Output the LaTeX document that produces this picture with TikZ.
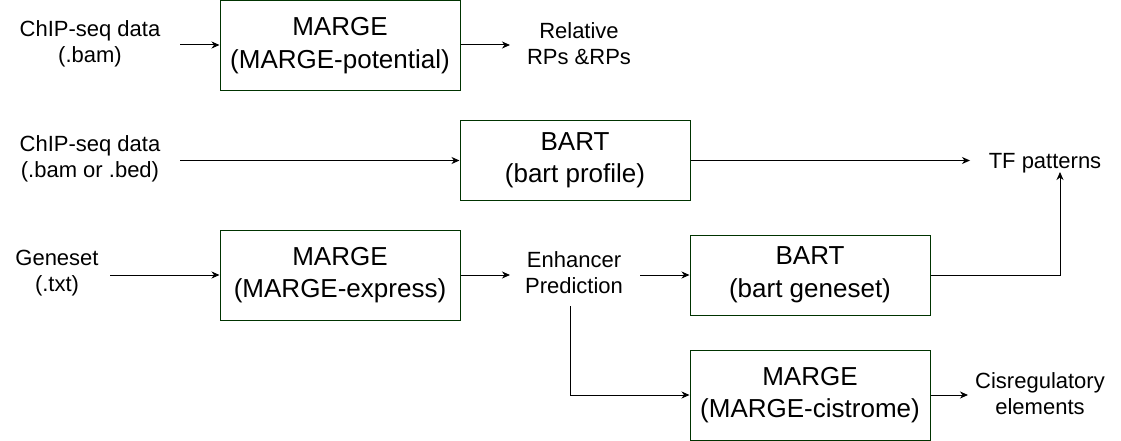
\documentclass[tikz,border=0pt]{standalone}
\usepackage{fontspec}
\setmainfont{Liberation Sans}
\usetikzlibrary{arrows.meta}
\definecolor{boxgreen}{HTML}{003300}
\tikzset{
  stepbox/.style={draw=boxgreen, line width=1pt, inner sep=0pt, align=center,
    font=\fontsize{26}{32.5}\selectfont,
    execute at begin node={\rule{0pt}{25pt}}},
  lbl/.style={inner sep=0pt, align=center, font=\fontsize{22}{26}\selectfont,
    execute at begin node={\rule{0pt}{20pt}}},
  arr/.style={draw=black, line width=1pt, -{Stealth[length=8pt,width=7pt,inset=2.5pt]}}
}
\begin{document}
\begin{tikzpicture}[x=1pt,y=1pt]
\useasboundingbox (0,0) rectangle (1121,-441);
% boxes
\node[stepbox, minimum width=240pt, minimum height=90pt] (mp) at (340,-45.5) {MARGE\\(MARGE-potential)};
\node[stepbox, minimum width=230pt, minimum height=80pt] (bp) at (575,-160.5) {BART\\(bart profile)};
\node[stepbox, minimum width=240pt, minimum height=90pt] (me) at (340,-275) {MARGE\\(MARGE-express)};
\node[stepbox, minimum width=240pt, minimum height=80pt] (bg) at (810,-275) {BART\\(bart geneset)};
\node[stepbox, minimum width=240pt, minimum height=90pt] (mc) at (810,-395) {MARGE\\(MARGE-cistrome)};
% labels
\node[lbl] (in1) at (90,-44) {ChIP-seq data\\(.bam)};
\node[lbl] (out1) at (579,-44) {Relative\\RPs \&RPs};
\node[lbl] (in2) at (90,-159) {ChIP-seq data\\(.bam or .bed)};
\node[lbl] (tf) at (1045,-161) {TF patterns};
\node[lbl] (in3) at (57,-273) {Geneset\\(.txt)};
\node[lbl] (enh) at (574,-273) {Enhancer\\Prediction};
\node[lbl] (cis) at (1040,-394) {Cisregulatory\\elements};
% free ends
\coordinate (a1) at (180,-45);
\coordinate (b1) at (510,-45);
\coordinate (a2) at (180,-160.5);
\coordinate (b2) at (970,-160.5);
\coordinate (a3) at (110,-275);
\coordinate (b3) at (510,-275);
\coordinate (c3) at (640,-275);
\coordinate (up) at (1060,-172);
\coordinate (d3) at (570,-306);
\coordinate (b4) at (968,-395);
% connectors
\draw[arr] (a1) -- (mp.west |- a1);
\draw[arr] (mp.east |- b1) -- (b1);
\draw[arr] (a2) -- (bp.west);
\draw[arr] (bp.east) -- (b2);
\draw[arr] (a3) -- (me.west);
\draw[arr] (me.east) -- (b3);
\draw[arr] (c3) -- (bg.west);
\draw[arr] (bg.east) -| (up);
\draw[arr] (d3) |- (mc.west);
\draw[arr] (mc.east) -- (b4);
\end{tikzpicture}
\end{document}
